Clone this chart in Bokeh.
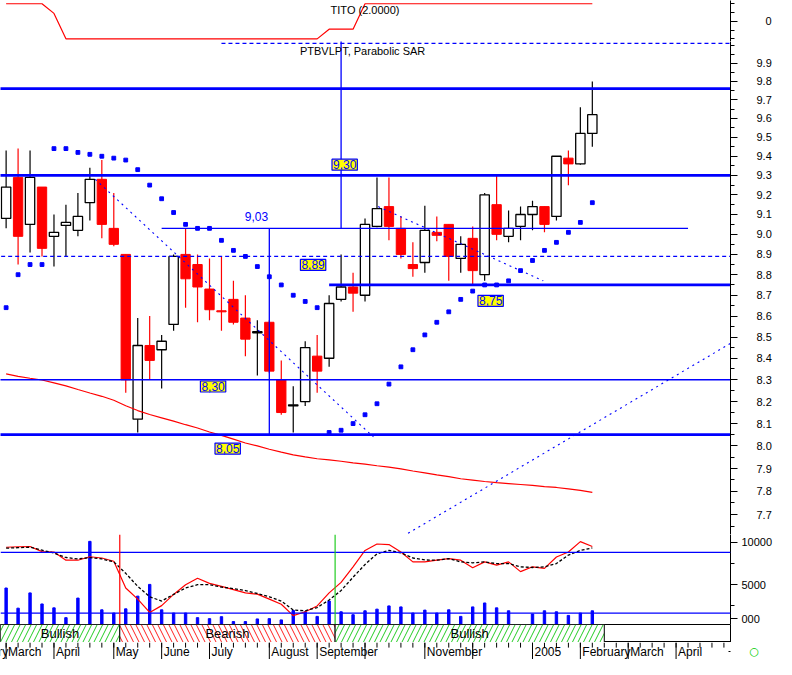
import numpy as np
import pandas as pd
from bokeh.plotting import figure
from bokeh.layouts import column
from bokeh.models import (Range1d, LinearAxis, FixedTicker, Label, Span,
                          ColumnDataSource, PrintfTickFormatter)
from bokeh.core.properties import value
from bokeh.embed import file_html
from bokeh.resources import INLINE

FONT = "Liberation Sans"

# ---------------- data (weekly candles, Friday dates) ----------------
week_dates = pd.date_range("2004-03-05", periods=50, freq="7D")

opens = [9.08, 9.29, 9.05, 9.24, 8.99, 9.045, 9.02, 9.16, 9.28, 9.03,
         8.90, 8.12, 8.46, 8.44, 8.56, 8.90, 8.85, 8.73, 8.625, 8.68,
         8.59, 8.52, 8.57, 8.30, 8.18, 8.20, 8.41, 8.40, 8.68, 8.74,
         8.70, 9.04, 9.14, 9.03, 8.85, 8.86, 9.01, 9.05, 8.88, 8.98,
         8.80, 9.15, 8.99, 9.04, 9.10, 9.14, 9.09, 9.39, 9.36, 9.52]
highs = [9.43, 9.44, 9.43, 9.24, 9.10, 9.15, 9.21, 9.34, 9.38, 9.21,
         8.90, 8.59, 8.60, 8.51, 8.90, 9.03, 8.90, 8.88, 8.89, 8.77,
         8.70, 8.58, 8.58, 8.39, 8.27, 8.48, 8.51, 8.70, 8.90, 8.81,
         9.08, 9.29, 9.29, 9.09, 8.96, 9.145, 9.09, 9.05, 8.99, 9.04,
         9.21, 9.30, 9.12, 9.14, 9.17, 9.14, 9.40, 9.43, 9.66, 9.80]
lows = [9.03, 8.85, 8.91, 8.89, 8.84, 8.89, 8.99, 9.07, 8.98, 8.94,
        8.24, 8.06, 8.30, 8.26, 8.53, 8.64, 8.57, 8.58, 8.53, 8.56,
        8.41, 8.32, 8.33, 8.14, 8.06, 8.18, 8.24, 8.36, 8.67, 8.62,
        8.67, 9.035, 8.97, 8.88, 8.79, 8.81, 8.965, 8.77, 8.81, 8.75,
        8.77, 8.97, 8.96, 8.97, 9.02, 9.01, 9.07, 9.25, 9.355, 9.45]
closes = [9.24, 8.99, 9.29, 8.93, 9.01, 9.06, 9.09, 9.28, 9.05, 8.95,
          8.30, 8.46, 8.39, 8.48, 8.89, 8.78, 8.74, 8.63, 8.62, 8.57,
          8.49, 8.525, 8.34, 8.15, 8.185, 8.45, 8.34, 8.66, 8.74, 8.71,
          9.05, 9.13, 9.04, 8.90, 8.83, 9.02, 8.995, 8.89, 8.95, 8.82,
          9.20, 9.00, 9.03, 9.10, 9.14, 9.05, 9.40, 9.36, 9.52, 9.62]

# Parabolic SAR
sar = [8.64, 8.80, 8.85, 8.85, 9.44, 9.44, 9.42, 9.41, 9.40, 9.39,
       9.38, 9.33, 9.25, 9.18, 9.11, 9.05, 9.03, 9.03, 8.97, 8.92,
       8.89, 8.84, 8.79, 8.75, 8.70, 8.67, 8.64, 8.06, 8.07, 8.10,
       8.14, 8.19, 8.28, 8.36, 8.44, 8.51, 8.57, 8.62, 8.68, 8.72,
       8.75, 8.75, 8.77, 8.82, 8.87, 8.92, 8.96, 9.01, 9.06, 9.16]

# moving average (red line in price panel)
ma = [8.327, 8.316, 8.307, 8.299, 8.286, 8.272, 8.255, 8.239, 8.224, 8.206,
      8.181, 8.159, 8.141, 8.126, 8.111, 8.095, 8.080, 8.062, 8.047, 8.030,
      8.013, 8.000, 7.985, 7.972, 7.960, 7.951, 7.943, 7.938, 7.932, 7.925,
      7.919, 7.912, 7.906, 7.898, 7.889, 7.881, 7.872, 7.864, 7.855, 7.849,
      7.843, 7.838, 7.834, 7.830, 7.826, 7.821, 7.817, 7.811, 7.804, 7.796]

# weekly volume
volume = [37300, 16700, 32300, 21000, 17000, 7000, 27000, 85000, 15000, 11700,
          16000, 29000, 41000, 15000, 11700, 11700, 7000, 6000, 8000, 3000,
          3000, 5700, 6000, 4700, 14300, 13000, 8300, 24000, 13000, 10000,
          14000, 15700, 19000, 18000, 11700, 14700, 11700, 15000, 8300, 18000,
          22000, 17000, 14000, 0, 10700, 14000, 13000, 9300, 11700, 14000]

# oscillator (fast = red, slow = black dashed)
osc_fast = [9420, 9480, 9500, 8900, 8850, 7890, 7890, 8300, 8150, 7770,
            4610, 3300, 1720, 2530, 3850, 5000, 5760, 5150, 4800, 4420,
            4030, 3880, 3300, 2690, 1340, 1800, 2490, 4030, 5270, 7110,
            9040, 9800, 9730, 8850, 7690, 7690, 7890, 8070, 7890, 7000,
            7690, 7310, 7690, 6540, 7110, 6920, 8270, 8850, 10080, 9500]
osc_slow = [9310, 9370, 9420, 9080, 8730, 8210, 8040, 8190, 8040, 7690,
            6340, 4800, 3570, 3070, 3850, 4610, 5000, 5000, 4720, 4540,
            4310, 3960, 3570, 3070, 2000, 1920, 2300, 3190, 4310, 5880,
            7380, 8650, 9050, 8760, 8150, 7920, 7890, 8070, 7690, 7580,
            7690, 7490, 7490, 7110, 7030, 7110, 7490, 8500, 9040, 9340]
osc_levels = [8810, 1650]

# TITO indicator
tito = [2, 2, 2, 2, 0.9] + [-2] * 22 + [-0.9, -0.9, -0.9] + [2] * 20

# analysis levels
thick_levels = [9.76, 9.30, 8.75, 8.05]
thick_start = [-1, -1, 27, -1]
thin_levels = [9.03, 8.30]
thin_start = [13, -1]
thin_end = [57, 61]
dash_levels = [8.89, 10.01]
dash_start = [-1, 18]
vert_x = [28, 22]
vert_lo = [9.03, 8.05]
vert_hi = [10.1, 9.03]
trend_x0 = [7.45, 31.1, 33.6]
trend_y0 = [9.28, 9.14, 7.62]
trend_x1 = [30.7, 44.9, 60.55]
trend_y1 = [8.04, 8.77, 8.47]
box_text = ["9,30", "8,89", "8,75", "8,30", "8,05"]
box_x = [28.3, 25.66, 40.5, 17.3, 18.52]
box_y = [9.356, 8.848, 8.673, 8.269, 7.988]

# trend band
trend_start = [-0.5, 9.5, 27.5]
trend_end = [9.5, 27.5, 50.0]
trend_names = ["Bullish", "Bearish", "Bullish"]
trend_hatch = ["/", "\\", "/"]
trend_hcolor = ["#22cc22", "#ff2020", "#22cc22"]

# axis ticks / labels
price_ticks = [7.7, 7.8, 7.9, 8.0, 8.1, 8.2, 8.3, 8.4, 8.5, 8.6, 8.7, 8.8,
               8.9, 9.0, 9.1, 9.2, 9.3, 9.4, 9.5, 9.6, 9.7, 9.8, 9.9]
price_minor = [round(7.65 + 0.05 * k, 2) for k in range(48)]
osc_ticks = [993, 5000, 10000]
osc_tick_text = {993: "000"}
osc_minor = [2500, 7500]
tito_ticks = [0]
tito_minor = [-2, -1, 1, 2]
month_ticks = [-4, 0, 4, 9, 13, 17, 22, 26, 30, 35, 39, 44, 48, 52, 56]
label_ticks = [-4, 0, 4, 9, 13, 17, 22, 26, 35, 44, 48, 52, 56]
month_labels = ["February", "March", "April", "May", "June", "July", "August",
                "September", "November", "2005", "February", "March", "April"]
week_ticks = list(range(-1, 62))

# ---------------- layout ----------------
W = 776
RB = 46
H_TOP, H_MAIN, H_OSC, H_BAND, H_MONTH = 41, 493, 90, 18, 17
x_range = Range1d(-0.47, 60.55)
xi = np.arange(len(closes))


def base_fig(h, y_range, y_type="linear", yloc="right"):
    p = figure(width=W, height=h, x_range=x_range, y_range=y_range,
               y_axis_type=y_type, output_backend="svg", toolbar_location=None,
               x_axis_location=None, y_axis_location=yloc,
               min_border_left=0, min_border_right=RB,
               min_border_top=0, min_border_bottom=0)
    p.grid.visible = False
    p.outline_line_color = None
    p.background_fill_color = "white"
    p.border_fill_color = "white"
    return p


def style_axis(ax, standoff):
    ax.axis_line_color = "black"
    ax.axis_line_width = 1
    ax.major_tick_in = 0
    ax.minor_tick_in = 0
    ax.major_tick_out = 7
    ax.minor_tick_out = 4
    ax.major_tick_line_color = "black"
    ax.minor_tick_line_color = "black"
    ax.major_label_text_font = FONT
    ax.major_label_text_font_size = "11px"
    ax.major_label_text_color = "black"
    ax.major_label_standoff = standoff


# ---- top panel (TITO)
p_top = base_fig(H_TOP, Range1d(-2.3, 2.37))
p_top.line(xi, tito, color="red", line_width=1.2)
ax = p_top.yaxis[0]
ax.ticker = FixedTicker(ticks=tito_ticks, minor_ticks=tito_minor)
style_axis(ax, 28)
sep = LinearAxis(ticker=FixedTicker(ticks=[]), major_tick_out=0, minor_tick_out=0,
                 major_label_standoff=0, axis_line_color="black")
p_top.add_layout(sep, "below")
p_top.add_layout(Label(x=30.0, y=1.26, text="TITO (2.0000)", text_align="center",
                       text_baseline="middle", text_font=FONT, text_font_size="11px",
                       text_color="black"))

# ---- main price panel
p_main = base_fig(H_MAIN, Range1d(7.615, 10.02), "log")
o = np.array(opens); c = np.array(closes); hi = np.array(highs); lo = np.array(lows)
up = c >= o
wick_col = ["black" if u else "red" for u in up]
p_main.segment(x0=xi, y0=lo, x1=xi, y1=hi, line_color=wick_col, line_width=1.2)
p_main.vbar(x=xi[up], bottom=o[up], top=c[up], width=0.78, fill_color="white",
            line_color="black", line_width=1.3)
p_main.vbar(x=xi[~up], bottom=c[~up], top=o[~up], width=0.78, fill_color="red",
            line_color="red", line_width=1)
p_main.line(xi, ma, color="red", line_width=1.2)

p_main.segment(x0=thick_start, y0=thick_levels, x1=[61] * len(thick_levels),
               y1=thick_levels, line_color="blue", line_width=2.8)
p_main.segment(x0=thin_start, y0=thin_levels, x1=thin_end, y1=thin_levels,
               line_color="blue", line_width=1.4)
p_main.segment(x0=dash_start, y0=dash_levels, x1=[61] * len(dash_levels),
               y1=dash_levels, line_color="blue", line_width=1.3, line_dash="4 3")
p_main.segment(x0=vert_x, y0=vert_lo, x1=vert_x, y1=vert_hi, line_color="blue",
               line_width=1.3)
p_main.segment(x0=trend_x0, y0=trend_y0, x1=trend_x1, y1=trend_y1,
               line_color="blue", line_width=1.1, line_dash="2 4")
p_main.scatter(xi, sar, marker="square", size=3.8, color="blue")

for t, bx, by in zip(box_text, box_x, box_y):
    p_main.add_layout(Label(x=bx, y=by, text=t, text_align="center",
                            text_baseline="middle", text_font=FONT,
                            text_font_size="12px", text_color="blue",
                            background_fill_color="yellow",
                            border_line_color="blue", border_line_width=1.2,
                            padding=1))
p_main.add_layout(Label(x=21.9, y=9.088, text="9,03", text_align="right",
                        text_baseline="middle", text_font=FONT,
                        text_font_size="12px", text_color="blue"))
p_main.add_layout(Label(x=29.8, y=9.965, text="PTBVLPT, Parabolic SAR",
                        text_align="center", text_baseline="middle",
                        text_font=FONT, text_font_size="11px", text_color="black"))
ax = p_main.yaxis[0]
ax.ticker = FixedTicker(ticks=price_ticks, minor_ticks=price_minor)
ax.formatter = PrintfTickFormatter(format="%.1f")
style_axis(ax, 19)

# ---- oscillator / volume panel
p_osc = base_fig(H_OSC, Range1d(300, 10924))
p_osc.extra_y_ranges = {"vol": Range1d(0, 92000)}
p_osc.vbar(x=xi, bottom=0, top=volume, width=0.2, color="blue", y_range_name="vol")
for lv in osc_levels:
    p_osc.add_layout(Span(location=lv, dimension="width", line_color="blue",
                          line_width=1.2))
p_osc.add_layout(Span(location=trend_start[1], dimension="height",
                      line_color="red", line_width=1.2))
p_osc.add_layout(Span(location=trend_start[2], dimension="height",
                      line_color="#22cc22", line_width=1.2))
p_osc.line(xi, osc_fast, color="red", line_width=1.2)
p_osc.line(xi, osc_slow, color="black", line_width=1.3, line_dash="3 2")
ax = p_osc.yaxis[0]
ax.ticker = FixedTicker(ticks=osc_ticks, minor_ticks=osc_minor)
ax.formatter = PrintfTickFormatter(format="%d")
ax.major_label_overrides = osc_tick_text
style_axis(ax, 4)

# ---- trend band
p_band = base_fig(H_BAND, Range1d(0, 1))
p_band.outline_line_color = "black"
bsrc = ColumnDataSource(dict(left=trend_start, right=trend_end, hatch=trend_hatch,
                             hcol=trend_hcolor, name=trend_names,
                             mid=[(a + b) / 2 for a, b in zip(trend_start, trend_end)]))
p_band.quad(left="left", right="right", bottom=0, top=1, source=bsrc,
            fill_color="white", line_color="black", line_width=1,
            hatch_pattern="hatch", hatch_color="hcol", hatch_scale=11,
            hatch_weight=1)
p_band.text(x="mid", y=0.5, text="name", source=bsrc, text_align="center",
            text_baseline="middle", text_font=value(FONT), text_font_size="13px",
            text_color="black")
ax = p_band.yaxis[0]
ax.ticker = FixedTicker(ticks=[])
ax.axis_line_color = "black"
ax.major_tick_out = 0
ax.minor_tick_out = 0

# ---- month row (ticks: long at month starts, short at each week)
p_month = base_fig(H_MONTH, Range1d(0, 1))
p_month.segment(x0=week_ticks, y0=[0.7] * len(week_ticks), x1=week_ticks,
                y1=[1.0] * len(week_ticks), line_color="black", line_width=1)
p_month.segment(x0=month_ticks, y0=[0.0] * len(month_ticks), x1=month_ticks,
                y1=[1.0] * len(month_ticks), line_color="black", line_width=1)
p_month.text(x=label_ticks, y=[0.45] * len(label_ticks), text=month_labels,
             text_align="left", text_baseline="middle", x_offset=2,
             text_font=value(FONT), text_font_size="12px", text_color="black")
ax = p_month.yaxis[0]
ax.ticker = FixedTicker(ticks=[0.45])
ax.major_label_overrides = {0.45: "\u25cb"}
ax.axis_line_color = None
ax.major_tick_out = 0
ax.minor_tick_out = 0
ax.major_label_standoff = 19
ax.major_label_text_font = "DejaVu Sans"
ax.major_label_text_font_size = "11px"
ax.major_label_text_font_style = "bold"
ax.major_label_text_color = "#00cc00"

layout = column(p_top, p_main, p_osc, p_band, p_month, spacing=0)
open("out.html", "w").write(file_html(layout, INLINE))
